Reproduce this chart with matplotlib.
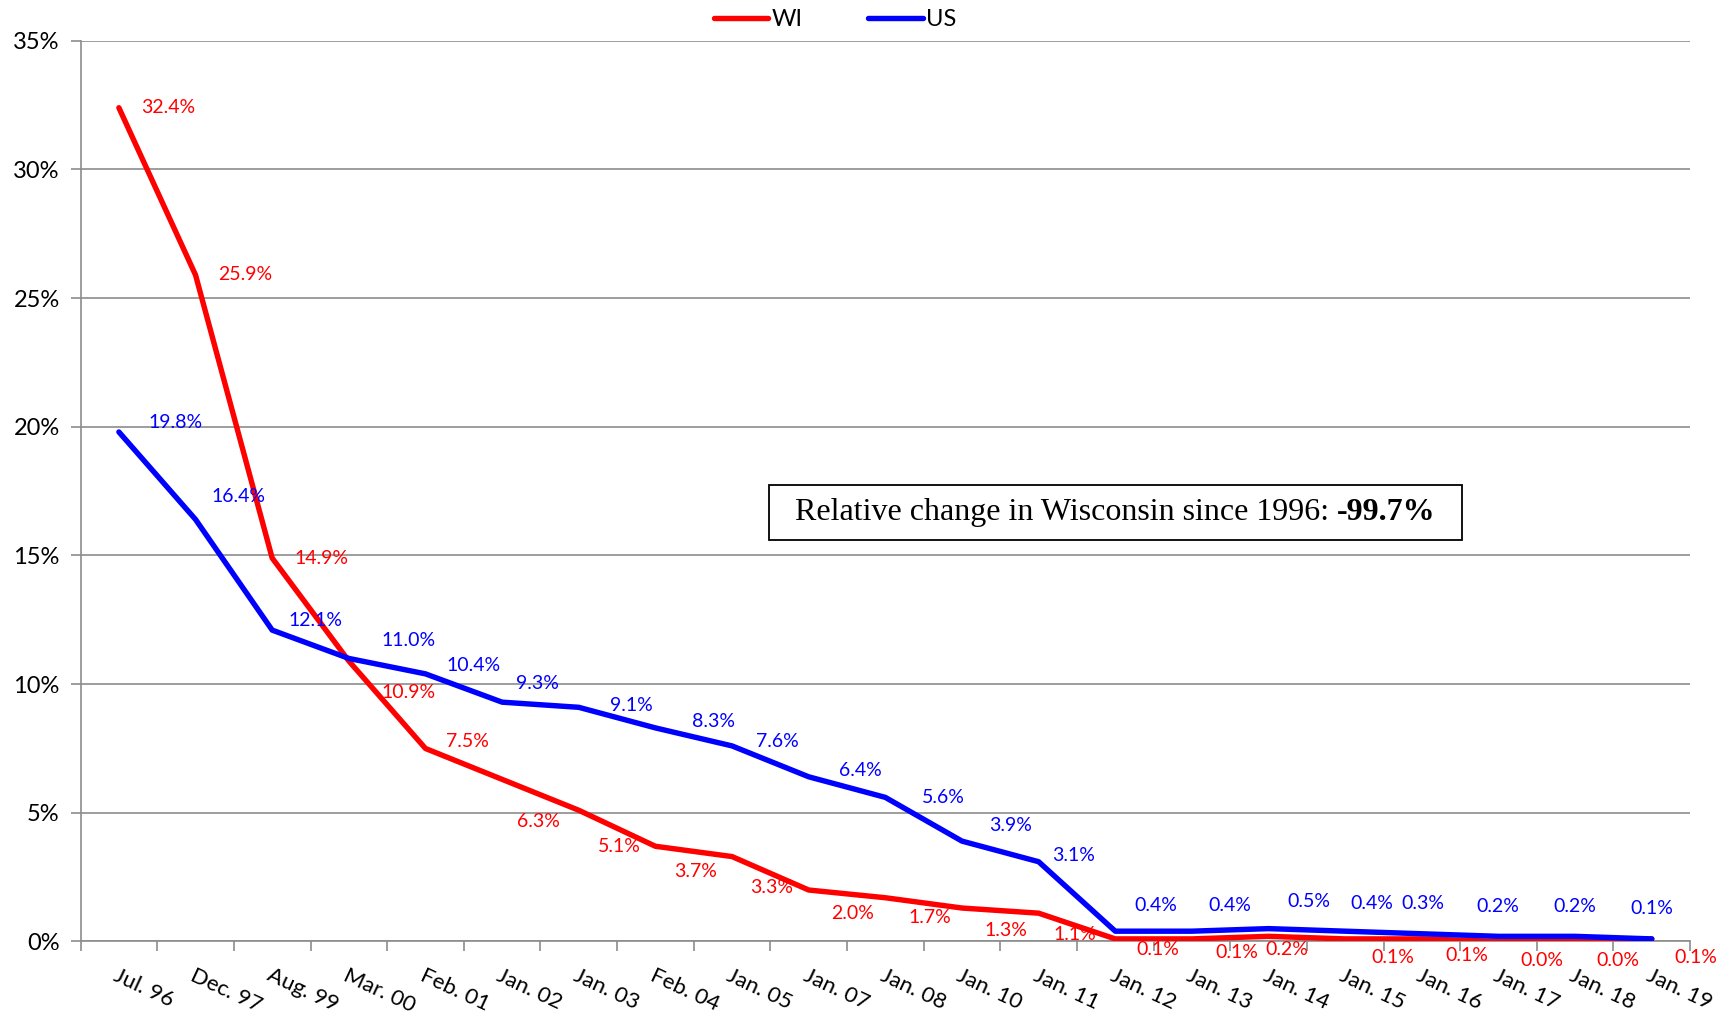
import matplotlib
matplotlib.use("Agg")
import matplotlib.pyplot as plt
from matplotlib.ticker import FixedLocator, PercentFormatter
from matplotlib.offsetbox import AnchoredOffsetbox, HPacker, TextArea, DrawingArea

# data
dates = ["Jul. 96", "Dec. 97", "Aug. 99", "Mar. 00", "Feb. 01", "Jan. 02", "Jan. 03",
         "Feb. 04", "Jan. 05", "Jan. 07", "Jan. 08", "Jan. 10", "Jan. 11", "Jan. 12",
         "Jan. 13", "Jan. 14", "Jan. 15", "Jan. 16", "Jan. 17", "Jan. 18", "Jan. 19"]
wi = [32.4, 25.9, 14.9, 10.9, 7.5, 6.3, 5.1, 3.7, 3.3, 2.0, 1.7, 1.3, 1.1, 0.1,
      0.1, 0.2, 0.1, 0.1, 0.0, 0.0, 0.1]
us = [19.8, 16.4, 12.1, 11.0, 10.4, 9.3, 9.1, 8.3, 7.6, 6.4, 5.6, 3.9, 3.1, 0.4,
      0.4, 0.5, 0.4, 0.3, 0.2, 0.2, 0.1]
note = "Relative change in Wisconsin since 1996: "
note_value = "-99.7%"

# label offsets (pixels, x right / y down) for the data labels
wi_off = [(45, 0), (45, 0), (45, 0), (54, 29), (38, -6), (33, 38), (37, 33), (36, 23),
          (36, 28), (40, 21), (40, 18), (40, 20), (33, 19), (39, 10), (41, 12),
          (17, 12), (43, 17), (41, 15), (39, 17), (39, 17), (40, 17)]
us_off = [(51, -9), (39, -21), (39, -9), (54, -16), (44, -8), (32, -17), (48, -2),
          (53, -6), (41, -4), (47, -6), (53, 0), (44, -14), (32, -6), (37, -23),
          (34, -23), (37, -25), (24, -25), (1, -27), (-1, -27), (0, -27), (0, -28)]
scale = 1729 / 1568

plt.rcParams["font.family"] = ["Lato", "DejaVu Sans"]

fig = plt.figure(figsize=(17.29, 10.13), dpi=100)
ax = fig.add_axes([0.0466, 0.0706, 0.9309, 0.8891])

x = list(range(len(dates)))
ax.plot(x, wi, color="#ff0000", lw=3.9, label="WI", solid_capstyle="round", zorder=3)
ax.plot(x, us, color="#0000ff", lw=3.9, label="US", solid_capstyle="round", zorder=4)

for series, offs, col in [(wi, wi_off, "#ff0000"), (us, us_off, "#0000ff")]:
    for i, v in enumerate(series):
        dx, dy = offs[i]
        ax.annotate(f"{v:.1f}%", (i, v), xytext=(dx * scale, -dy * scale),
                    textcoords="offset pixels", ha="center", va="center",
                    color=col, fontsize=14, zorder=5)

ax.set_xlim(-0.5, len(dates) - 0.5)
ax.set_ylim(0, 35)
ax.set_yticks(range(0, 36, 5))
ax.yaxis.set_major_formatter(PercentFormatter(decimals=0))
ax.grid(axis="y", color="#8c8c8c", lw=1.2)
ax.set_axisbelow(True)

ax.set_xticks(x)
ax.set_xticklabels(dates, rotation=-25, ha="left", rotation_mode="anchor", fontsize=16)
ax.xaxis.set_minor_locator(FixedLocator([i - 0.5 for i in range(len(dates) + 1)]))
ax.tick_params(axis="x", which="major", length=0, pad=17)
ax.tick_params(axis="x", which="minor", length=7, color="#8c8c8c", width=1.2)
ax.tick_params(axis="y", length=7, color="#8c8c8c", width=1.2, labelsize=17, pad=8)

for side in ["top", "right"]:
    ax.spines[side].set_visible(False)
for side in ["left", "bottom"]:
    ax.spines[side].set_color("#8c8c8c")
    ax.spines[side].set_linewidth(1.2)

# note box: regular text followed by bold value
serif = {"family": "Liberation Serif", "size": 23}
parts = HPacker(children=[DrawingArea(9, 1),
                          TextArea(note, textprops=dict(**serif)),
                          TextArea(note_value, textprops=dict(**serif, weight="bold")),
                          DrawingArea(9, 1)],
                align="baseline", pad=0, sep=0)
anch = AnchoredOffsetbox(loc="center", child=parts, pad=0.95, borderpad=0,
                         frameon=True, bbox_to_anchor=(0.643, 0.476),
                         bbox_transform=ax.transAxes)
anch.patch.set_edgecolor("black")
anch.patch.set_linewidth(1.3)
anch.patch.set_boxstyle("square", pad=0)
ax.add_artist(anch)

fig.legend(loc="upper center", bbox_to_anchor=(0.483, 1.012), ncol=2, frameon=False,
           fontsize=17, handlelength=2.3, columnspacing=2.8, handletextpad=0.15)

fig.savefig("out.png", dpi=100)
